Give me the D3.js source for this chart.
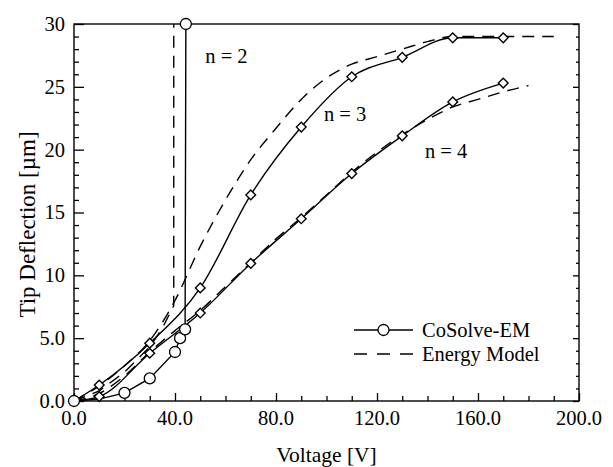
<!DOCTYPE html>
<html>
<head>
<meta charset="utf-8">
<script src="https://cdn.jsdelivr.net/npm/d3@7"></script>
<style>
  html, body { margin: 0; padding: 0; background: #fff; }
  svg { display: block; }
  text { font-family: "Liberation Serif", "Times New Roman", serif; fill: #000; }
</style>
</head>
<body>
<svg id="chart" width="613" height="467"></svg>
<script>
// Tip deflection of the beam vs. applied voltage, for n = 2, 3, 4
const xTickValues = [0, 40, 80, 120, 160, 200];
const xTickLabels = ["0.0", "40.0", "80.0", "120.0", "160.0", "200.0"];
const yTickValues = [0, 5, 10, 15, 20, 25, 30];
const yTickLabels = ["0.0", "5.0", "10", "15", "20", "25", "30"];

// CoSolve-EM results (solid lines with markers)
const cosolveN2 = [[0, 0], [10, 0.15], [20, 0.65], [30, 1.8], [40, 3.9], [42, 5.0], [44, 5.7], [44.3, 30]];
const cosolveN3 = [[0, 0], [10, 1.27], [30, 4.6], [50, 9.0], [70, 16.4], [90, 21.8], [110, 25.8], [130, 27.35], [150, 28.9], [170, 28.9]];
const cosolveN4 = [[0, 0], [10, 0.35], [30, 3.8], [50, 7.0], [70, 10.95], [90, 14.5], [110, 18.1], [130, 21.1], [150, 23.8], [170, 25.3]];

// Energy model results (dashed lines)
const energyN2 = [[0, 0], [10, 0.8], [20, 2.3], [30, 4.3], [35, 5.8], [39.5, 7.6], [39.5, 30]];
const energyN3 = [[0, 0], [10, 1.2], [20, 2.8], [30, 4.8], [40, 8.0], [50, 12.3], [60, 16.0], [70, 19.2], [80, 21.7], [90, 24.0], [100, 25.7], [110, 26.8], [120, 27.4], [130, 28.0], [140, 28.6], [150, 29.0], [160, 29.0], [170, 29.0], [180, 29.0], [190, 29.0]];
const energyN4 = [[0, 0], [10, 0.6], [20, 2.0], [30, 3.9], [40, 5.6], [50, 7.2], [60, 9.1], [70, 11.0], [80, 12.9], [90, 14.6], [100, 16.4], [110, 18.2], [120, 19.8], [130, 21.2], [140, 22.4], [150, 23.4], [160, 24.0], [170, 24.6], [180, 25.1]];

const curveLabels = [
  { text: "n = 2", v: 52, d: 26.9 },
  { text: "n = 3", v: 99, d: 22.3 },
  { text: "n = 4", v: 139, d: 19.3 }
];
const legendItems = ["CoSolve-EM", "Energy Model"];

const svg = d3.select("#chart");
const mLeft = 74, mRight = 579, mTop = 24, mBottom = 401;

const x = d3.scaleLinear().domain([0, 200]).range([mLeft, mRight]);
const y = d3.scaleLinear().domain([0, 30]).range([mBottom, mTop]);

const ink = "#000";
const fontSize = 20.5;

// Frame
svg.append("rect")
  .attr("x", mLeft).attr("y", mTop)
  .attr("width", mRight - mLeft).attr("height", mBottom - mTop)
  .attr("fill", "none").attr("stroke", ink).attr("stroke-width", 1.4);

// Axes: inward ticks, labels drawn separately for placement control
const xMinor = d3.range(0, 201, 10).filter(v => v % 40 !== 0);
const yMinor = d3.range(0, 31, 1).filter(v => v % 5 !== 0);

const xAxisMajor = d3.axisTop(x).tickValues(xTickValues).tickSize(8).tickFormat("");
const xAxisMinor = d3.axisTop(x).tickValues(xMinor).tickSize(5).tickFormat("");
const yAxisMajor = d3.axisRight(y).tickValues(yTickValues).tickSize(10).tickFormat("");
const yAxisMinor = d3.axisRight(y).tickValues(yMinor).tickSize(5).tickFormat("");
const yAxisMajorR = d3.axisLeft(y).tickValues(yTickValues).tickSize(6).tickFormat("");
const yAxisMinorR = d3.axisLeft(y).tickValues(yMinor).tickSize(3).tickFormat("");

function styleAxis(g) {
  g.select(".domain").remove();
  g.selectAll(".tick line").attr("stroke", ink).attr("stroke-width", 1.3);
}
svg.append("g").attr("transform", `translate(0,${mBottom})`).call(xAxisMajor).call(styleAxis);
svg.append("g").attr("transform", `translate(0,${mBottom})`).call(xAxisMinor).call(styleAxis);
svg.append("g").attr("transform", `translate(${mLeft},0)`).call(yAxisMajor).call(styleAxis);
svg.append("g").attr("transform", `translate(${mLeft},0)`).call(yAxisMinor).call(styleAxis);
svg.append("g").attr("transform", `translate(${mRight},0)`).call(yAxisMajorR).call(styleAxis);
svg.append("g").attr("transform", `translate(${mRight},0)`).call(yAxisMinorR).call(styleAxis);

// Tick labels
svg.append("g").selectAll("text").data(xTickValues).join("text")
  .attr("x", d => x(d)).attr("y", mBottom + 24)
  .attr("text-anchor", "middle").attr("font-size", fontSize)
  .text((d, i) => xTickLabels[i]);
svg.append("g").selectAll("text").data(yTickValues).join("text")
  .attr("x", mLeft - 9).attr("y", d => y(d)).attr("dy", "0.34em")
  .attr("text-anchor", "end").attr("font-size", fontSize)
  .text((d, i) => yTickLabels[i]);

// Axis titles
svg.append("text")
  .attr("x", (mLeft + mRight) / 2).attr("y", 462)
  .attr("text-anchor", "middle").attr("font-size", 21.5)
  .text("Voltage [V]");
svg.append("text")
  .attr("transform", `translate(35,${(mTop + mBottom) / 2 + 12}) rotate(-90)`)
  .attr("text-anchor", "middle").attr("font-size", 23)
  .text("Tip Deflection [\u00b5m]");

// Curves
const smooth = d3.line().x(d => x(d[0])).y(d => y(d[1])).curve(d3.curveMonotoneX);
const straight = d3.line().x(d => x(d[0])).y(d => y(d[1]));

const dashes = "12,8";
function path(data, gen, dashed) {
  svg.append("path").datum(data)
    .attr("d", gen)
    .attr("fill", "none").attr("stroke", ink).attr("stroke-width", 1.4)
    .attr("stroke-dasharray", dashed ? dashes : null);
}
path(energyN2, straight, true);
path(energyN3, smooth, true);
path(energyN4, smooth, true);
path(cosolveN2, straight, false);
path(cosolveN3, smooth, false);
path(cosolveN4, smooth, false);

// Markers: circles for n = 2, diamonds for n = 3 and n = 4
const diamond = d3.symbol().type(d3.symbolDiamond2).size(60);
[cosolveN3, cosolveN4].forEach(series => {
  svg.append("g").selectAll("path").data(series).join("path")
    .attr("transform", d => `translate(${x(d[0])},${y(d[1])})`)
    .attr("d", diamond)
    .attr("fill", "#fff").attr("stroke", ink).attr("stroke-width", 1.4);
});
svg.append("g").selectAll("circle").data(cosolveN2.filter(d => d[0] !== 10)).join("circle")
  .attr("cx", d => x(d[0])).attr("cy", d => y(d[1])).attr("r", 5.5)
  .attr("fill", "#fff").attr("stroke", ink).attr("stroke-width", 1.3);

// Curve labels
svg.append("g").selectAll("text").data(curveLabels).join("text")
  .attr("x", d => x(d.v)).attr("y", d => y(d.d))
  .attr("font-size", fontSize)
  .text(d => d.text);

// Legend
const legend = svg.append("g");
const lx0 = 354, lx1 = 413, ly = [330, 354];
legend.append("line").attr("x1", lx0).attr("x2", lx1).attr("y1", ly[0]).attr("y2", ly[0])
  .attr("stroke", ink).attr("stroke-width", 1.4);
legend.append("circle").attr("cx", (lx0 + lx1) / 2).attr("cy", ly[0]).attr("r", 5.5)
  .attr("fill", "#fff").attr("stroke", ink).attr("stroke-width", 1.3);
legend.append("line").attr("x1", lx0).attr("x2", lx1).attr("y1", ly[1]).attr("y2", ly[1])
  .attr("stroke", ink).attr("stroke-width", 1.4).attr("stroke-dasharray", "13,10");
legend.selectAll("text").data(legendItems).join("text")
  .attr("x", 422).attr("y", (d, i) => ly[i]).attr("dy", "0.35em")
  .attr("font-size", fontSize)
  .text(d => d);
</script>
</body>
</html>
